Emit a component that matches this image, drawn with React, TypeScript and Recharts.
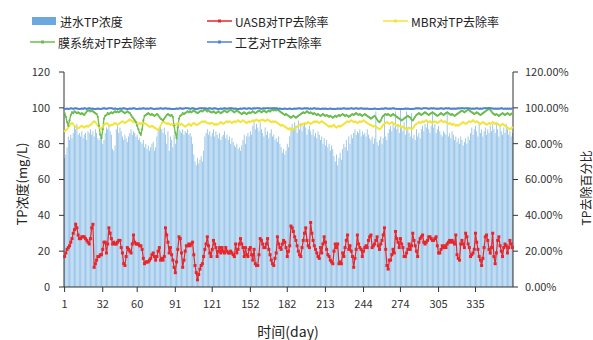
import React from 'react';
import { ComposedChart, Bar, Line, XAxis, YAxis } from 'recharts';

// 进水TP浓度 + 各单元TP去除率，逐日（1–365 天）
const FONT = '"Noto Sans CJK SC", "Noto Sans", sans-serif';

const dayTicks = [1, 32, 60, 91, 121, 152, 182, 213, 244, 274, 305, 335];
const leftTicks = [0, 20, 40, 60, 80, 100, 120];
const rightTicks = [0, 20, 40, 60, 80, 100, 120];

// 进水TP浓度 (mg/L)
const tpIn = [
  72, 74, 78, 84, 82, 85, 83, 86, 90, 88,
  91, 85, 86, 84, 87, 83, 85, 86, 82, 87,
  86, 88, 85, 87, 84, 88, 86, 83, 82, 84,
  83, 80, 82, 86, 89, 88, 90, 87, 85, 77,
  76, 79, 88, 90, 86, 89, 87, 84, 82, 85,
  83, 81, 84, 86, 88, 85, 87, 86, 84, 85,
  82, 83, 81, 80, 82, 78, 80, 77, 79, 76,
  78, 80, 81, 76, 78, 84, 87, 89, 90, 88,
  86, 89, 85, 80, 87, 76, 84, 82, 78, 85,
  80, 83, 86, 88, 87, 86, 88, 85, 87, 86,
  88, 85, 86, 84, 80, 74, 70, 68, 72, 69,
  71, 73, 70, 76, 84, 86, 88, 85, 87, 84,
  86, 88, 84, 87, 85, 83, 86, 82, 84, 85,
  87, 83, 85, 82, 84, 80, 83, 81, 79, 78,
  80, 77, 78, 76, 79, 82, 85, 80, 84, 86,
  84, 87, 85, 90, 92, 88, 91, 89, 87, 92,
  88, 86, 84, 89, 85, 87, 83, 86, 88, 84,
  85, 82, 83, 81, 84, 80, 78, 75, 77, 74,
  76, 80, 78, 84, 89, 91, 88, 92, 90, 86,
  93, 88, 91, 87, 90, 92, 89, 85, 88, 90,
  87, 85, 88, 84, 86, 83, 87, 85, 82, 84,
  80, 83, 79, 82, 78, 80, 76, 79, 77, 73,
  70, 74, 68, 72, 75, 71, 77, 80, 78, 82,
  76, 84, 80, 85, 83, 86, 88, 85, 87, 86,
  88, 84, 87, 85, 86, 84, 88, 85, 83, 82,
  84, 80, 83, 98, 81, 79, 82, 84, 80, 83,
  97, 84, 82, 86, 88, 90, 87, 92, 89, 98,
  88, 91, 86, 99, 90, 87, 92, 85, 98, 88,
  86, 84, 97, 83, 85, 82, 88, 84, 86, 83,
  88, 90, 87, 91, 89, 92, 88, 86, 90, 98,
  89, 91, 86, 88, 90, 87, 85, 84, 87, 86,
  85, 97, 84, 86, 83, 87, 85, 82, 84, 81,
  83, 80, 84, 82, 79, 81, 83, 80, 84, 82,
  86, 89, 85, 88, 90, 87, 84, 91, 86, 88,
  84, 87, 89, 85, 88, 86, 90, 87, 91, 88,
  86, 92, 88, 84, 90, 87, 85, 89, 86, 91,
  88, 85, 87, 84, 86,
];

// UASB对TP去除率 (%)
const uasb = [
  17, 19, 21, 22, 23, 25, 27, 30, 32, 35,
  33, 29, 27, 27, 28, 28, 28, 27, 26, 25,
  24, 27, 33, 35, 11, 13, 15, 17, 17, 18,
  18, 21, 25, 25, 19, 24, 33, 30, 27, 24,
  25, 24, 24, 25, 26, 26, 22, 19, 13, 12,
  17, 22, 21, 20, 19, 24, 29, 25, 24, 24,
  24, 23, 23, 21, 16, 13, 14, 14, 14, 15,
  16, 18, 19, 17, 15, 17, 20, 22, 15, 16,
  15, 17, 33, 29, 25, 19, 22, 18, 15, 11,
  8, 14, 21, 28, 27, 19, 11, 15, 20, 23,
  23, 24, 23, 24, 25, 18, 12, 8, 4, 7,
  10, 12, 13, 17, 21, 24, 28, 23, 19, 17,
  21, 26, 24, 22, 17, 20, 22, 19, 22, 20,
  19, 22, 20, 19, 19, 20, 19, 18, 17, 24,
  19, 21, 24, 27, 24, 22, 17, 22, 18, 17,
  21, 22, 18, 15, 21, 13, 12, 12, 18, 27,
  26, 24, 22, 22, 24, 27, 21, 18, 15, 13,
  12, 16, 19, 28, 24, 22, 21, 24, 26, 25,
  22, 17, 20, 23, 34, 33, 31, 28, 26, 23,
  20, 18, 17, 22, 26, 30, 33, 26, 23, 22,
  36, 30, 26, 23, 21, 19, 17, 16, 22, 19,
  24, 28, 25, 21, 18, 17, 15, 14, 13, 20,
  24, 22, 24, 13, 14, 13, 19, 17, 22, 26,
  29, 21, 23, 20, 17, 11, 16, 21, 29, 24,
  22, 21, 17, 20, 22, 23, 22, 26, 28, 29,
  22, 23, 24, 26, 28, 23, 21, 24, 26, 29,
  33, 21, 12, 10, 15, 15, 18, 21, 19, 31,
  27, 25, 22, 27, 24, 22, 17, 17, 19, 21,
  24, 21, 23, 30, 26, 23, 20, 17, 25, 27,
  28, 29, 25, 24, 25, 26, 28, 28, 27, 26,
  26, 27, 28, 23, 19, 19, 21, 23, 22, 23,
  22, 24, 25, 26, 25, 26, 25, 24, 29, 18,
  16, 15, 24, 26, 24, 22, 30, 28, 24, 22,
  17, 18, 19, 21, 30, 25, 21, 17, 15, 12,
  16, 22, 28, 29, 26, 21, 19, 22, 30, 17,
  13, 19, 26, 28, 23, 20, 17, 22, 24, 23,
  19, 22, 26, 24, 22,
];

// MBR对TP去除率 (%)
const mbr = [
  87, 87.5, 88, 89, 90, 91, 91.5, 91, 90, 89.5,
  89, 88.5, 89, 89.5, 90, 89.5, 89, 89.5, 90, 89.5,
  90, 90.5, 91, 92, 92.5, 92, 91, 90, 89, 88.5,
  88.5, 89.5, 90.5, 91, 91.5, 91, 90.5, 90, 90.5, 90.5,
  91, 91.5, 91, 90.5, 91, 91.5, 92, 92.5, 92, 91.5,
  92, 92.5, 93, 93.5, 93, 92.5, 92, 92.5, 92, 91.5,
  91, 91.5, 91, 91.5, 91, 91.5, 91, 90.5, 90, 89.5,
  89.5, 90, 89.5, 89, 88.5, 88, 87.5, 88.5, 90, 91.5,
  92.5, 92, 91.5, 91, 91.5, 91, 90.5, 91, 90.5, 90,
  90.5, 91, 91.5, 91, 90.5, 91, 90.5, 90, 89.5, 90,
  90.5, 91, 90.5, 90, 91, 91.5, 91, 90.5, 90.5, 91,
  91.5, 92, 92.5, 92, 92.5, 92, 91.5, 91.5, 91, 91.5,
  91.5, 91, 90.5, 91, 90.5, 91, 91.5, 92, 91.5, 91,
  91.5, 92, 92.5, 92, 92.5, 92, 91.5, 92, 92.5, 92,
  92.5, 93, 92.5, 92, 92.5, 93, 92.5, 92, 91.5, 92,
  92.5, 92, 92.5, 93, 92.5, 93, 93.5, 93, 92.5, 93,
  93, 93.5, 93, 92.5, 93, 93.5, 93, 92.5, 92, 92.5,
  92, 92.5, 92, 91.5, 91, 90.5, 90, 90.5, 90, 89.5,
  89, 88.5, 88, 88.5, 88, 87.5, 88, 88.5, 89, 89.5,
  90, 90.5, 91, 90.5, 91, 91.5, 91, 91.5, 92, 91.5,
  91, 91.5, 92, 92.5, 92, 92.5, 92, 91.5, 92, 92.5,
  92, 91.5, 91, 90.5, 90, 89.5, 90, 89.5, 90, 90.5,
  89.5, 89, 89.5, 90, 89.5, 90, 90.5, 91, 91.5, 92,
  92.5, 92, 92.5, 93, 92.5, 92, 92.5, 92, 91.5, 92,
  92.5, 92, 92.5, 93, 92.5, 92, 91.5, 91, 90.5, 90.5,
  90, 89.5, 90, 89.5, 89, 88.5, 88, 88.5, 89.5, 90.5,
  91, 91.5, 92, 91.5, 91, 91.5, 92, 91.5, 91, 90.5,
  90, 90.5, 90, 89.5, 89, 89.5, 89, 88.5, 88, 88.5,
  89, 88.5, 88, 88.5, 89.5, 90.5, 91, 91.5, 92, 91.5,
  92, 92.5, 92, 92.5, 93, 92.5, 92, 92.5, 92, 91.5,
  92, 92.5, 92, 91.5, 92, 92.5, 93, 92.5, 92, 92.5,
  92, 91.5, 91, 91.5, 91, 90.5, 91, 90.5, 90, 90.5,
  90, 90.5, 91, 91.5, 92, 91.5, 91, 91.5, 92, 92.5,
  92, 92.5, 93, 92.5, 92, 92.5, 92, 91.5, 91, 91.5,
  92, 91.5, 91, 90.5, 91, 91.5, 91, 91.5, 92, 91.5,
  91, 91.5, 91, 90.5, 90, 90.5, 91, 90.5, 90, 89.5,
  89, 88.5, 88, 88.5, 89,
];

// 膜系统对TP去除率 (%)
const membrane = [
  97, 95, 92, 90, 93, 96, 97.5, 97, 98, 97.5,
  97, 97.5, 97, 96.5, 97, 96.5, 96, 97, 98, 98.5,
  98.5, 98, 98.5, 98, 97.5, 97, 96.5, 95, 90, 85,
  83, 88, 94, 95.5, 96, 97, 96.5, 97, 97.5, 97,
  97.5, 98, 97.5, 98, 97.5, 98, 98.5, 98, 97.5, 97,
  97.5, 98, 97.5, 97, 96, 95, 94, 93, 92, 90,
  88, 86, 85, 88, 93, 95.5, 96, 96.5, 97, 96.5,
  96, 96.5, 96, 95.5, 96, 96.5, 96, 95, 94, 93.5,
  93, 94, 95, 96, 96.5, 96, 95.5, 96, 95, 90,
  86, 83, 89, 94, 95.5, 96, 97, 96.5, 97, 97.5,
  98, 97.5, 98, 97.5, 98, 98.5, 98, 97.5, 97, 97.5,
  98, 98.5, 98, 98.5, 99, 98.5, 98, 98.5, 98, 97.5,
  97.5, 98, 97.5, 97, 97.5, 98, 97.5, 97, 97.5, 98,
  98.5, 98, 97.5, 98, 98.5, 99, 98.5, 98, 97.5, 98,
  98.5, 98, 97.5, 97, 96.5, 97, 97.5, 97, 96.5, 97,
  97.5, 97, 97.5, 98, 97.5, 97, 97.5, 98, 98.5, 98,
  97.5, 98, 98.5, 98, 97.5, 98, 98.5, 98, 98.5, 99,
  98.5, 99, 98.5, 99, 98.5, 98, 97.5, 97, 96.5, 96,
  96.5, 96, 95.5, 95, 94.5, 95, 95.5, 95, 94.5, 95,
  95.5, 96, 96.5, 97, 97.5, 97, 97.5, 98, 97.5, 97,
  97.5, 97, 96.5, 97, 96.5, 96, 96.5, 96, 95.5, 96,
  96.5, 96, 95.5, 96, 95.5, 95, 95.5, 95, 94.5, 95,
  95.5, 95, 95.5, 96, 95.5, 96, 96.5, 96, 95.5, 96,
  95.5, 95, 95.5, 96, 96.5, 96, 96.5, 97, 96.5, 96,
  96.5, 96, 95.5, 96, 96.5, 96, 95.5, 95, 94.5, 94,
  94.5, 95, 95.5, 94.5, 93.5, 92.5, 92, 93, 94.5, 95.5,
  96, 96.5, 96, 96.5, 96, 95.5, 96, 96.5, 96, 95.5,
  95, 94.5, 94, 93.5, 93, 93.5, 94, 94.5, 95, 95.5,
  95, 94.5, 93.5, 93, 94, 95, 96, 96.5, 97, 96.5,
  96, 96.5, 97, 97.5, 97, 96.5, 96, 96.5, 97, 97.5,
  97, 96.5, 96, 95.5, 96, 96.5, 97, 96.5, 96, 96.5,
  97, 97.5, 97, 96.5, 96, 96.5, 96, 95.5, 96, 96.5,
  97, 97.5, 98, 98.5, 98, 97.5, 98, 98.5, 99, 98.5,
  98, 97.5, 97, 96.5, 97, 97.5, 97, 96.5, 96, 96.5,
  97, 97.5, 98, 98.5, 99, 99.5, 99, 98, 97, 96.5,
  96, 96.5, 96, 95.5, 96, 96.5, 97, 96.5, 96, 96.5,
  97, 96.5, 96, 96.5, 97,
];

// 工艺对TP去除率 (%)
const overall = [
  99.3, 99.5, 99.6, 99.4, 99.5, 99.7, 99.6, 99.5, 99.6, 99.7,
  99.6, 99.5, 99.4, 99.5, 99.6, 99.5, 99.7, 99.6, 99.5, 99.6,
  99.7, 99.6, 99.5, 99.6, 99.4, 99.3, 99.5, 99.6, 99.5, 99.4,
  99.5, 99.6, 99.7, 99.6, 99.5, 99.6, 99.7, 99.8, 99.7, 99.6,
  99.5, 99.6, 99.5, 99.4, 99.5, 99.6, 99.5, 99.6, 99.7, 99.6,
  99.5, 99.4, 99.5, 99.6, 99.5, 99.6, 99.7, 99.6, 99.5, 99.4,
  99.5, 99.6, 99.5, 99.6, 99.7, 99.6, 99.5, 99.6, 99.5, 99.6,
  99.7, 99.6, 99.5, 99.4, 99.5, 99.6, 99.5, 99.6, 99.7, 99.6,
  99.5, 99.6, 99.7, 99.6, 99.5, 99.6, 99.5, 99.4, 99.3, 99.4,
  99.5, 99.6, 99.5, 99.6, 99.7, 99.6, 99.5, 99.6, 99.7, 99.8,
  99.7, 99.6, 99.5, 99.6, 99.7, 99.6, 99.5, 99.4, 99.5, 99.6,
  99.7, 99.8, 99.7, 99.6, 99.7, 99.6, 99.5, 99.6, 99.7, 99.6,
  99.5, 99.6, 99.7, 99.6, 99.5, 99.4, 99.5, 99.6, 99.5, 99.6,
  99.7, 99.6, 99.5, 99.6, 99.7, 99.8, 99.7, 99.6, 99.5, 99.6,
  99.5, 99.4, 99.5, 99.6, 99.5, 99.6, 99.7, 99.6, 99.5, 99.6,
  99.7, 99.6, 99.5, 99.6, 99.7, 99.6, 99.7, 99.8, 99.7, 99.6,
  99.5, 99.6, 99.7, 99.6, 99.7, 99.8, 99.7, 99.6, 99.7, 99.8,
  99.7, 99.8, 99.7, 99.6, 99.5, 99.6, 99.5, 99.4, 99.5, 99.6,
  99.5, 99.4, 99.5, 99.6, 99.5, 99.4, 99.5, 99.6, 99.5, 99.6,
  99.6, 99.7, 99.6, 99.5, 99.6, 99.7, 99.6, 99.7, 99.6, 99.5,
  99.6, 99.5, 99.6, 99.7, 99.6, 99.5, 99.6, 99.5, 99.4, 99.5,
  99.6, 99.5, 99.6, 99.5, 99.4, 99.5, 99.6, 99.5, 99.4, 99.5,
  99.4, 99.5, 99.6, 99.5, 99.6, 99.5, 99.6, 99.7, 99.6, 99.5,
  99.6, 99.5, 99.6, 99.7, 99.6, 99.5, 99.6, 99.7, 99.6, 99.5,
  99.6, 99.7, 99.6, 99.5, 99.6, 99.5, 99.6, 99.5, 99.4, 99.5,
  99.4, 99.5, 99.6, 99.5, 99.4, 99.3, 99.4, 99.5, 99.6, 99.5,
  99.6, 99.7, 99.6, 99.5, 99.6, 99.5, 99.6, 99.7, 99.6, 99.5,
  99.5, 99.4, 99.5, 99.4, 99.5, 99.4, 99.5, 99.6, 99.5, 99.6,
  99.5, 99.4, 99.5, 99.4, 99.5, 99.6, 99.7, 99.6, 99.7, 99.6,
  99.5, 99.6, 99.7, 99.8, 99.7, 99.6, 99.5, 99.6, 99.7, 99.6,
  99.7, 99.6, 99.5, 99.6, 99.5, 99.6, 99.7, 99.6, 99.5, 99.6,
  99.7, 99.6, 99.7, 99.6, 99.5, 99.6, 99.5, 99.6, 99.5, 99.6,
  99.7, 99.6, 99.7, 99.8, 99.7, 99.6, 99.7, 99.8, 99.7, 99.6,
  99.6, 99.5, 99.6, 99.5, 99.6, 99.7, 99.6, 99.5, 99.6, 99.5,
  99.6, 99.7, 99.8, 99.7, 99.8, 99.9, 99.8, 99.7, 99.6, 99.5,
  99.6, 99.5, 99.6, 99.5, 99.6, 99.7, 99.6, 99.5, 99.6, 99.5,
  99.6, 99.5, 99.6, 99.5, 99.6,
];

const BAR = '#8fc0e8';
const BAR_KEY = '#6aa8de';
const RED = '#e8262b';
const YELLOW = '#f2e43c';
const GREEN = '#6cbd4f';
const BLUE = '#4f83cf';

const data = tpIn.map((tp, i) => ({
  day: i + 1,
  tp,
  uasb: uasb[i],
  mbr: mbr[i],
  mem: membrane[i],
  all: overall[i],
}));

const squareDot = (color: string, s: number) => (p: any) => (
  <rect key={`d${p.index}`} x={p.cx - s / 2} y={p.cy - s / 2} width={s} height={s} fill={color} />
);
const roundDot = (color: string, r: number) => (p: any) => (
  <circle key={`c${p.index}`} cx={p.cx} cy={p.cy} r={r} fill={color} />
);

const axisTick = { fontSize: 11, fill: '#333', fontFamily: FONT };

interface LegendProps {
  x: number;
  y: number;
  color: string;
  label: string;
  rect?: boolean;
}
function LegendItem({ x, y, color, label, rect }: LegendProps) {
  return (
    <div style={{ position: 'absolute', left: x, top: y - 8, height: 16, display: 'flex', alignItems: 'center' }}>
      <svg width={26} height={10}>
        {rect ? (
          <rect x={0} y={1} width={24} height={8} fill={color} />
        ) : (
          <>
            <line x1={0} y1={5} x2={25} y2={5} stroke={color} strokeWidth={1.5} />
            <rect x={11} y={3.5} width={3} height={3} fill={color} />
          </>
        )}
      </svg>
      <span style={{ marginLeft: 2, fontSize: 12, color: '#222', whiteSpace: 'nowrap' }}>{label}</span>
    </div>
  );
}

export default function App() {
  return (
    <div style={{ position: 'absolute', left: 0, top: 0, width: 593, height: 340, fontFamily: FONT, background: '#fff' }}>
      <LegendItem x={32} y={21} color={BAR_KEY} label="进水TP浓度" rect />
      <LegendItem x={207} y={21} color={RED} label="UASB对TP去除率" />
      <LegendItem x={383} y={21} color={YELLOW} label="MBR对TP去除率" />
      <LegendItem x={30} y={42} color={GREEN} label="膜系统对TP去除率" />
      <LegendItem x={207} y={42} color={BLUE} label="工艺对TP去除率" />

      <ComposedChart
        width={593}
        height={340}
        data={data}
        margin={{ top: 72, right: 0, bottom: 23, left: 0 }}
        barCategoryGap="15%"
        style={{ position: 'absolute', left: 0, top: 0 }}
      >
        <XAxis
          dataKey="day"
          ticks={dayTicks}
          interval={0}
          height={30}
          tickSize={5}
          tickMargin={8}
          tick={axisTick}
          axisLine={{ stroke: '#333' }}
          tickLine={{ stroke: '#333' }}
        />
        <YAxis
          yAxisId="l"
          domain={[0, 120]}
          ticks={leftTicks}
          width={64}
          tickSize={5}
          tickMargin={9}
          tick={axisTick}
          axisLine={{ stroke: '#333' }}
          tickLine={{ stroke: '#333' }}
        />
        <YAxis
          yAxisId="r"
          orientation="right"
          domain={[0, 120]}
          ticks={rightTicks}
          width={80}
          tickSize={5}
          tickMargin={7}
          tick={axisTick}
          tickFormatter={(v: number) => `${v.toFixed(2)}%`}
          axisLine={{ stroke: '#333' }}
          tickLine={{ stroke: '#333' }}
        />
        <Bar yAxisId="l" dataKey="tp" fill={BAR} isAnimationActive={false} />
        <Line
          yAxisId="r"
          dataKey="mbr"
          stroke={YELLOW}
          strokeWidth={1.3}
          dot={roundDot(YELLOW, 1.1)}
          isAnimationActive={false}
        />
        <Line
          yAxisId="r"
          dataKey="mem"
          stroke={GREEN}
          strokeWidth={1.3}
          dot={roundDot(GREEN, 1.1)}
          isAnimationActive={false}
        />
        <Line
          yAxisId="r"
          dataKey="all"
          stroke={BLUE}
          strokeWidth={1.5}
          dot={roundDot(BLUE, 1)}
          isAnimationActive={false}
        />
        <Line
          yAxisId="r"
          dataKey="uasb"
          stroke={RED}
          strokeWidth={1.2}
          dot={squareDot(RED, 3)}
          isAnimationActive={false}
        />
      </ComposedChart>

      <div
        style={{
          position: 'absolute',
          left: 21,
          top: 184,
          transform: 'translate(-50%, -50%) rotate(-90deg)',
          fontSize: 13,
          color: '#222',
          whiteSpace: 'nowrap',
        }}
      >
        TP浓度(mg/L)
      </div>
      <div
        style={{
          position: 'absolute',
          left: 585,
          top: 188,
          transform: 'translate(-50%, -50%) rotate(-90deg)',
          fontSize: 12,
          color: '#222',
          whiteSpace: 'nowrap',
        }}
      >
        TP去除百分比
      </div>
      <div
        style={{
          position: 'absolute',
          left: 288,
          top: 331,
          transform: 'translate(-50%, -50%)',
          fontSize: 14,
          color: '#222',
          whiteSpace: 'nowrap',
        }}
      >
        时间(day)
      </div>
    </div>
  );
}
